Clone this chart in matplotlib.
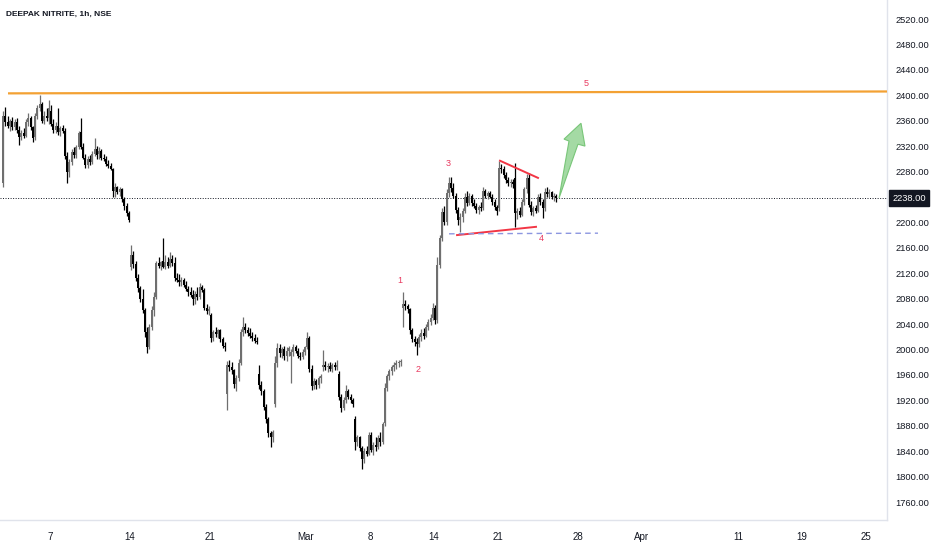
import matplotlib
matplotlib.use('Agg')
import matplotlib.pyplot as plt
from matplotlib.patches import Polygon
from matplotlib.transforms import blended_transform_factory
import numpy as np

# ---------------- data ----------------
session_days = [
    '2022-02-02', '2022-02-03', '2022-02-04', '2022-02-07', '2022-02-08', '2022-02-09',
    '2022-02-10', '2022-02-11', '2022-02-14', '2022-02-15', '2022-02-16', '2022-02-17',
    '2022-02-18', '2022-02-21', '2022-02-22', '2022-02-23', '2022-02-24', '2022-02-25',
    '2022-02-28', '2022-03-02', '2022-03-03', '2022-03-04', '2022-03-07', '2022-03-08',
    '2022-03-09', '2022-03-10', '2022-03-11', '2022-03-14', '2022-03-15', '2022-03-16',
    '2022-03-17', '2022-03-21', '2022-03-22', '2022-03-23', '2022-03-24', '2022-03-25',
    '2022-03-28', '2022-03-29', '2022-03-30', '2022-03-31', '2022-04-01', '2022-04-04',
    '2022-04-05', '2022-04-06', '2022-04-07', '2022-04-08', '2022-04-11', '2022-04-12',
    '2022-04-13', '2022-04-18', '2022-04-19', '2022-04-20', '2022-04-21', '2022-04-22',
    '2022-04-25', '2022-04-26',
]
bars_per_day = 7

opens = [
    2262, 2368, 2358, 2352, 2360, 2350, 2358,   # Feb 02
    2345, 2335, 2340, 2336, 2358, 2365, 2350,   # Feb 03
    2335, 2368, 2380, 2386, 2360, 2368, 2365,   # Feb 04
    2375, 2355, 2345, 2352, 2342, 2348, 2344,   # Feb 07
    2305, 2280, 2295, 2310, 2306, 2318, 2342,   # Feb 08
    2318, 2302, 2290, 2300, 2295, 2308, 2316,   # Feb 09
    2308, 2312, 2302, 2300, 2292, 2288, 2284,   # Feb 10
    2250, 2255, 2248, 2252, 2236, 2225, 2214,   # Feb 11
    2130, 2148, 2135, 2112, 2096, 2080, 2062,   # Feb 14
    2028, 2004, 2035, 2062, 2083, 2136, 2132,   # Feb 15
    2140, 2130, 2138, 2132, 2142, 2136, 2112,   # Feb 16
    2110, 2106, 2110, 2102, 2095, 2090, 2086,   # Feb 17
    2080, 2088, 2082, 2098, 2094, 2066, 2060,   # Feb 18
    2055, 2018, 2028, 2024, 2030, 2016, 2006,   # Feb 21
    1930, 1976, 1972, 1968, 1946, 1955, 1978,   # Feb 22
    2028, 2036, 2030, 2026, 2022, 2018, 2014,   # Feb 23
    1962, 1944, 1934, 1910, 1890, 1868, 1862,   # Feb 24
    1915, 1978, 2002, 1994, 2000, 1990, 1998,   # Feb 25
    1990, 1996, 2004, 1998, 1990, 1988, 1996,   # Feb 28
    2004, 2018, 1970, 1942, 1950, 1944, 1955,   # Mar 02
    1972, 1976, 1972, 1974, 1970, 1975, 1972,   # Mar 03
    1962, 1925, 1908, 1920, 1934, 1926, 1920,   # Mar 04
    1890, 1855, 1862, 1845, 1828, 1840, 1836,   # Mar 07
    1865, 1842, 1850, 1846, 1860, 1855, 1884,   # Mar 08
    1940, 1958, 1966, 1972, 1976, 1978, 1980,   # Mar 09
    2066, 2072, 2068, 2064, 2030, 2016, 2012,   # Mar 10
    2008, 2020, 2026, 2022, 2036, 2044, 2050,   # Mar 11
    2066, 2046, 2133, 2175, 2216, 2200, 2246,   # Mar 14
    2262, 2254, 2242, 2220, 2204, 2208, 2218,   # Mar 15
    2240, 2230, 2242, 2230, 2226, 2220, 2224,   # Mar 16
    2222, 2250, 2242, 2246, 2240, 2232, 2224,   # Mar 17
    2222, 2286, 2284, 2274, 2266, 2262, 2264,   # Mar 21
    2270, 2214, 2218, 2212, 2232, 2252, 2270,   # Mar 22
    2228, 2216, 2222, 2218, 2240, 2232, 2222,   # Mar 23
    2248, 2244, 2248, 2240, 2242,               # Mar 24
]
highs = [
    2375, 2382, 2368, 2362, 2366, 2362, 2364,
    2352, 2345, 2348, 2362, 2372, 2368, 2352,
    2372, 2385, 2400, 2390, 2375, 2380, 2393,
    2385, 2362, 2358, 2380, 2352, 2354, 2348,
    2310, 2300, 2315, 2318, 2322, 2344, 2364,
    2325, 2308, 2305, 2306, 2312, 2333, 2320,
    2318, 2316, 2308, 2304, 2298, 2294, 2286,
    2262, 2258, 2256, 2254, 2240, 2230, 2218,
    2164, 2155, 2140, 2118, 2100, 2095, 2066,
    2035, 2040, 2068, 2090, 2140, 2145, 2140,
    2175, 2148, 2146, 2153, 2148, 2145, 2120,
    2118, 2114, 2112, 2108, 2100, 2098, 2094,
    2092, 2098, 2105, 2102, 2096, 2072, 2068,
    2058, 2030, 2035, 2032, 2032, 2020, 2012,
    1982, 1984, 1980, 1970, 1960, 1985, 2032,
    2051, 2042, 2036, 2034, 2028, 2024, 2020,
    1976, 1950, 1938, 1914, 1894, 1872, 1874,
    1990, 2010, 2008, 2004, 2006, 2004, 2006,
    2000, 2008, 2007, 2002, 1996, 2000, 2006,
    2027, 2022, 1975, 1955, 1954, 1958, 1962,
    1999, 1982, 1978, 1980, 1978, 1980, 1984,
    1966, 1930, 1925, 1944, 1938, 1930, 1924,
    1895, 1866, 1864, 1848, 1845, 1848, 1870,
    1870, 1855, 1862, 1866, 1870, 1886, 1948,
    1962, 1970, 1975, 1980, 1983, 1984, 1985,
    2090, 2078, 2072, 2066, 2034, 2022, 2018,
    2025, 2032, 2034, 2040, 2048, 2056, 2073,
    2070, 2146, 2180, 2222, 2225, 2252, 2271,
    2272, 2262, 2246, 2224, 2215, 2222, 2246,
    2250, 2246, 2244, 2236, 2230, 2228, 2232,
    2256, 2252, 2250, 2250, 2244, 2236, 2228,
    2296, 2292, 2288, 2280, 2272, 2268, 2268,
    2293, 2222, 2224, 2236, 2256, 2276, 2278,
    2234, 2226, 2228, 2244, 2246, 2236, 2254,
    2256, 2252, 2250, 2246, 2244,
]
lows = [
    2255, 2352, 2348, 2344, 2345, 2346, 2340,
    2322, 2330, 2332, 2334, 2352, 2345, 2326,
    2330, 2362, 2375, 2356, 2355, 2360, 2355,
    2352, 2340, 2340, 2338, 2336, 2340, 2300,
    2262, 2272, 2290, 2302, 2302, 2315, 2316,
    2300, 2285, 2286, 2290, 2292, 2304, 2300,
    2300, 2298, 2296, 2288, 2285, 2282, 2240,
    2240, 2244, 2242, 2232, 2220, 2210, 2200,
    2125, 2128, 2108, 2090, 2075, 2058, 2020,
    1994, 2000, 2030, 2052, 2080, 2128, 2125,
    2128, 2126, 2128, 2130, 2132, 2108, 2106,
    2100, 2100, 2098, 2092, 2084, 2082, 2070,
    2072, 2078, 2080, 2090, 2062, 2056, 2055,
    2012, 2014, 2020, 2018, 2012, 2002, 1998,
    1905, 1966, 1962, 1940, 1935, 1950, 1975,
    2022, 2026, 2022, 2018, 2014, 2010, 2008,
    1938, 1928, 1905, 1885, 1862, 1847, 1855,
    1910, 1972, 1988, 1986, 1984, 1982, 1990,
    1947, 1990, 1995, 1986, 1983, 1985, 1992,
    2000, 1965, 1936, 1938, 1938, 1940, 1948,
    1966, 1968, 1965, 1966, 1964, 1968, 1968,
    1920, 1902, 1904, 1916, 1922, 1916, 1910,
    1842, 1848, 1840, 1812, 1822, 1832, 1834,
    1838, 1834, 1840, 1844, 1848, 1852, 1880,
    1935, 1952, 1960, 1966, 1970, 1972, 1974,
    2035, 2062, 2058, 2025, 2012, 2006, 1991,
    2004, 2014, 2016, 2020, 2030, 2038, 2046,
    2040, 2042, 2128, 2170, 2196, 2196, 2240,
    2248, 2238, 2215, 2196, 2185, 2200, 2214,
    2226, 2228, 2226, 2222, 2214, 2213, 2218,
    2220, 2238, 2236, 2238, 2228, 2220, 2211,
    2218, 2278, 2270, 2262, 2258, 2256, 2254,
    2192, 2206, 2208, 2210, 2228, 2246, 2224,
    2212, 2210, 2214, 2216, 2228, 2207, 2218,
    2240, 2238, 2236, 2234, 2232,
]
closes = [
    2368, 2358, 2352, 2360, 2350, 2358, 2345,
    2335, 2340, 2336, 2358, 2365, 2350, 2332,
    2368, 2380, 2386, 2360, 2368, 2365, 2380,
    2355, 2345, 2352, 2342, 2348, 2344, 2305,
    2280, 2295, 2310, 2306, 2318, 2340, 2318,
    2302, 2290, 2300, 2295, 2308, 2316, 2306,
    2312, 2302, 2300, 2292, 2288, 2284, 2250,
    2255, 2248, 2252, 2236, 2225, 2214, 2204,
    2148, 2135, 2112, 2096, 2080, 2062, 2028,
    2004, 2035, 2062, 2083, 2136, 2132, 2138,
    2130, 2138, 2132, 2142, 2136, 2112, 2110,
    2106, 2110, 2102, 2095, 2090, 2086, 2080,
    2088, 2082, 2098, 2094, 2066, 2060, 2064,
    2018, 2028, 2024, 2030, 2016, 2006, 2004,
    1976, 1972, 1968, 1946, 1955, 1978, 2028,
    2036, 2030, 2026, 2022, 2018, 2014, 2012,
    1944, 1934, 1910, 1890, 1868, 1862, 1870,
    1978, 2002, 1994, 2000, 1990, 1998, 2002,
    1996, 2004, 1998, 1990, 1988, 1996, 2004,
    2018, 1970, 1942, 1950, 1944, 1955, 1958,
    1976, 1972, 1974, 1970, 1975, 1972, 1976,
    1925, 1908, 1920, 1934, 1926, 1920, 1914,
    1855, 1862, 1845, 1828, 1840, 1836, 1865,
    1842, 1850, 1846, 1860, 1855, 1882, 1940,
    1958, 1966, 1972, 1976, 1978, 1980, 1982,
    2072, 2068, 2064, 2030, 2016, 2012, 2008,
    2020, 2026, 2022, 2036, 2044, 2050, 2066,
    2046, 2133, 2175, 2216, 2200, 2246, 2262,
    2254, 2242, 2220, 2204, 2208, 2218, 2240,
    2230, 2242, 2230, 2226, 2220, 2224, 2222,
    2250, 2242, 2246, 2240, 2232, 2224, 2218,
    2286, 2284, 2274, 2266, 2262, 2264, 2260,
    2214, 2218, 2212, 2232, 2252, 2270, 2228,
    2216, 2222, 2218, 2240, 2232, 2222, 2248,
    2244, 2248, 2240, 2242, 2238,
]

tick_dates = ['2022-02-07', '2022-02-14', '2022-02-21', '2022-03-02', '2022-03-08',
              '2022-03-14', '2022-03-21', '2022-03-28', '2022-04-01', '2022-04-11',
              '2022-04-19', '2022-04-25']
tick_labels = ['7', '14', '21', 'Mar', '8', '14', '21', '28', 'Apr', '11', '19', '25']
price_ticks = [1760, 1800, 1840, 1880, 1920, 1960, 2000, 2040, 2080, 2120, 2160,
               2200, 2280, 2320, 2360, 2400, 2440, 2480, 2520]
last_price = 2238.0
title = 'DEEPAK NITRITE, 1h, NSE'

# drawings (session-index, price)
resistance_x = [0.375, 56.0]
resistance_y = [2403, 2406]
upper_trend_x = [31.125, 33.5]
upper_trend_y = [2297, 2270]
lower_trend_x = [28.44, 33.375]
lower_trend_y = [2180, 2193]
support_x = [27.94, 37.25]
support_y = [2182, 2183]
wave_labels = ['1', '2', '3', '4', '5']
wave_x = [24.875, 26.0, 27.875, 33.69, 36.5]
wave_y = [2108, 1968, 2292, 2175, 2419]
arrow_x = [34.8125, 35.4375, 35.125, 36.1875, 36.4375, 36.0]
arrow_y = [2238, 2328, 2331, 2356, 2320, 2323]

# ---------------- figure ----------------
FONT = ['Liberation Sans Narrow', 'Liberation Sans', 'DejaVu Sans']
plt.rcParams['font.family'] = FONT
TXT = '#131722'
SEP = '#e0e3eb'

fig = plt.figure(figsize=(9.32, 5.5), dpi=100)
fig.patch.set_facecolor('white')
ax = fig.add_axes([0, 30 / 550, 887 / 932, 520 / 550])
ax.set_facecolor('white')

n = len(closes)
xs = np.array([j // bars_per_day + (j % bars_per_day + 0.5) / bars_per_day for j in range(n)])
o = np.array(opens, float)
h = np.array(highs, float)
l = np.array(lows, float)
c = np.array(closes, float)
up = c >= o
cols = np.where(up, '#6f6f6f', '#000000')

ax.vlines(xs, l, h, colors=cols, linewidth=0.9, zorder=3)
bottoms = np.minimum(o, c)
heights = np.maximum(np.abs(c - o), 1.5)
ax.bar(xs, heights, bottom=bottoms, width=0.125, color=cols, linewidth=0, zorder=4)

# drawings
ax.plot(resistance_x, resistance_y, color='#f3a133', lw=1.6, zorder=5, solid_capstyle='butt')
ax.axhline(last_price, color=TXT, lw=0.7, ls=(0, (1, 1.6)), zorder=2)
ax.plot(upper_trend_x, upper_trend_y, color='#f23645', lw=1.4, zorder=5)
ax.plot(lower_trend_x, lower_trend_y, color='#f23645', lw=1.4, zorder=5)
ax.plot(support_x, support_y, color='#8c96e0', lw=1.0, ls=(0, (4, 3)), zorder=5)
for lab, wx, wy in zip(wave_labels, wave_x, wave_y):
    ax.text(wx, wy, lab, color='#e8395f', fontsize=6.5, ha='center', va='center', zorder=6)
ax.add_patch(Polygon(list(zip(arrow_x, arrow_y)), closed=True, facecolor='#9fd89f',
                     edgecolor='#74c474', lw=0.8, alpha=0.95, zorder=6))

# axes
i0 = session_days.index('2022-02-07')
ax.set_xlim(i0 - 50 / 16, i0 + 837 / 16)
ax.set_ylim(1731.7, 2549.9)
for s in ['left', 'top']:
    ax.spines[s].set_visible(False)
for s in ['right', 'bottom']:
    ax.spines[s].set_color(SEP)
    ax.spines[s].set_linewidth(1.0)

ax.yaxis.tick_right()
ax.set_yticks(price_ticks)
ax.set_yticklabels([f'{v:.2f}' for v in price_ticks])
ax.tick_params(axis='y', length=0, pad=6, labelsize=6.7, labelcolor=TXT)

ax.set_xticks([session_days.index(d) for d in tick_dates])
ax.set_xticklabels(tick_labels)
ax.tick_params(axis='x', length=0, pad=9, labelsize=7, labelcolor=TXT)

# last price label
tr = blended_transform_factory(fig.transFigure, ax.transData)
ax.text(909 / 932, last_price, f'{last_price:.2f}', transform=tr, color='white', fontsize=6.7,
        ha='center', va='center', clip_on=False, zorder=10,
        bbox=dict(boxstyle='square,pad=0.35', fc='#131722', ec='#131722'))

fig.text(6 / 932, 1 - 14 / 550, title, fontsize=6.0, fontweight='bold', color=TXT,
         ha='left', va='center')

fig.savefig('out.png', dpi=100, facecolor='white')
